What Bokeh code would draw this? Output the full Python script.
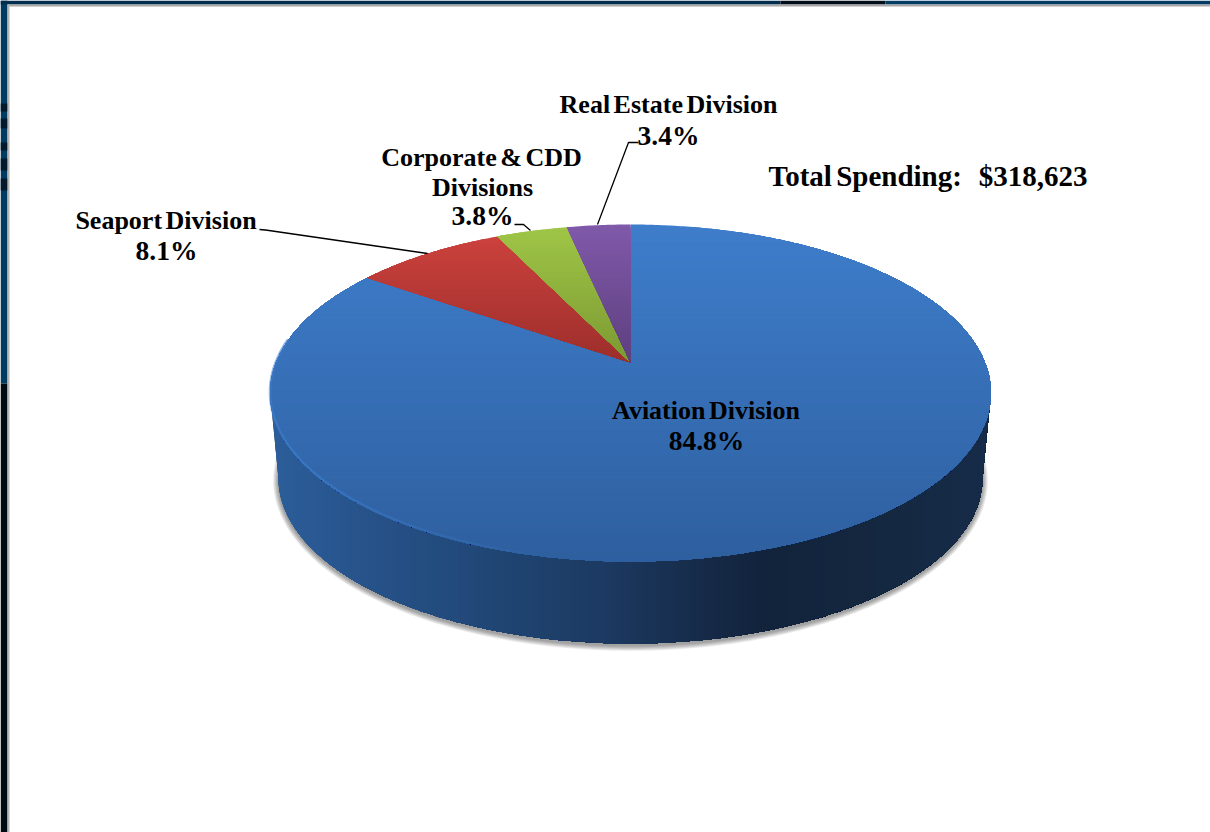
from math import cos, sin, pi, sqrt

from bokeh.core.properties import value
from bokeh.embed import file_html
from bokeh.models import Range1d
from bokeh.plotting import figure
from bokeh.resources import INLINE

# Spending share by division, clockwise from twelve o'clock
divisions = ["Aviation Division", "Seaport Division", "Corporate & CDD Divisions", "Real Estate Division"]
shares = [84.8, 8.1, 3.8, 3.4]
total_label = "Total Spending:\u00a0\u00a0\u00a0\u00a0$318,623"

face_top = ["#3e7dcb", "#cb413d", "#9fc547", "#8059aa"]
face_bottom = ["#2e5f9f", "#9c2e2b", "#7b9932", "#5d3f7e"]

# Side wall colour stops, left to right
wall_stops = [(270, "#2c5e9a"), (350, "#28548c"), (470, "#214878"), (600, "#1c3a62"),
              (700, "#162b49"), (760, "#12233c"), (860, "#14273f"), (991, "#162c49")]

W, H = 1210, 832
APEX_X, APEX_Y, TOP_Y, BOTTOM_Y = 630.0, 362.0, 224.0, 561.0
RADIUS = 354.5
BASE_CY, BASE_RX, BASE_RY = 478.0, 352.0, 165.0
RIM_Y = 392.0

# Perspective of the disc: the pie centre sits above the middle of the ellipse
persp = (BOTTOM_Y - APEX_Y - (APEX_Y - TOP_Y)) / (BOTTOM_Y - TOP_Y)
slope = TOP_Y * (1 + persp) - APEX_Y


def project(angle):
    """Map a clockwise angle on the disc to page coordinates."""
    u, v = sin(angle), cos(angle)
    d = 1 + persp * v
    return APEX_X + RADIUS * u / d, (slope * v + APEX_Y) / d


def hex_rgb(c):
    return tuple(int(c[i:i + 2], 16) for i in (1, 3, 5))


def mix(a, b, t):
    ra, rb = hex_rgb(a), hex_rgb(b)
    return "#%02x%02x%02x" % tuple(round(x + (y - x) * t) for x, y in zip(ra, rb))


def clip(points, axis, limit):
    """Keep the part of a polygon whose coordinate on axis is at or past limit."""
    out = []
    for i, a in enumerate(points):
        b = points[(i + 1) % len(points)]
        ina, inb = a[axis] >= limit, b[axis] >= limit
        if ina:
            out.append(a)
        if ina != inb:
            t = (limit - a[axis]) / (b[axis] - a[axis])
            out.append((a[0] + (b[0] - a[0]) * t, a[1] + (b[1] - a[1]) * t))
    return out


p = figure(width=W, height=H, output_backend="svg", toolbar_location=None,
           x_range=Range1d(0, W), y_range=Range1d(H, 0), min_border=0,
           background_fill_color="white", border_fill_color="white", outline_line_color=None)
p.axis.visible = False
p.grid.visible = False

# Slide backdrop showing around the white panel
p.quad(left=[0], right=[7], top=[0], bottom=[383], fill_color="#003b62", line_color=None)
p.quad(left=[0], right=[7], top=[383], bottom=[H], fill_color="#010a12", line_color=None)
p.quad(left=[0, 0, 0, 0, 0], right=[7] * 5, top=[103, 118, 142, 158, 178], bottom=[111, 128, 150, 170, 190],
       fill_color="#021a2b", line_color=None)
p.quad(left=[0, 780, 885], right=[780, 885, W], top=[0, 0, 0], bottom=[4, 4, 4],
       fill_color=["#012e4e", "#020f1a", "#013c64"], line_color=None)
p.quad(left=[7], right=[W], top=[4], bottom=[6], fill_color="#a8a8a8", line_color=None)
p.quad(left=[7], right=[9], top=[4], bottom=[H], fill_color="#b4b4b4", line_color=None)

# Soft shadow under the base
for k in range(1, 7):
    a = [2 * pi * i / 240 for i in range(240)]
    p.patch([APEX_X + (BASE_RX + k * 0.9) * cos(t) for t in a],
            [BASE_CY + 2 + (BASE_RY + k * 0.9) * sin(t) for t in a],
            fill_color="black", fill_alpha=0.07, line_color=None)

# Side wall: each band repaints everything to its right
arc = [pi * (1 - i / 240) for i in range(241)]
rim_left = APEX_X - RADIUS / sqrt(1 - persp ** 2)
rim_right = APEX_X + RADIUS / sqrt(1 - persp ** 2)
wall = [(rim_left, RIM_Y)] + [(APEX_X + BASE_RX * cos(t), BASE_CY + BASE_RY * sin(t)) for t in arc] + [(rim_right, RIM_Y)]
xs, ys, fills = [], [], []
for x in range(int(rim_left), int(rim_right), 3):
    for (x0, c0), (x1, c1) in zip(wall_stops, wall_stops[1:]):
        if x0 <= x <= x1:
            fills.append(mix(c0, c1, (x - x0) / (x1 - x0)))
            break
    else:
        fills.append(wall_stops[-1][1])
    piece = clip(wall, 0, x)
    xs.append([q[0] for q in piece])
    ys.append([q[1] for q in piece])
p.patches(xs, ys, fill_color=fills, line_color=None)

# Top face: one polygon per division, shaded top to bottom
total = sum(shares)
start = 0.0
for i, share in enumerate(shares):
    end = start + 2 * pi * share / total
    steps = max(12, int(share * 6))
    outline = [(APEX_X, APEX_Y)] + [project(start + (end - start) * j / steps) for j in range(steps + 1)]
    y0 = min(q[1] for q in outline)
    y1 = max(q[1] for q in outline)
    xs, ys, fills = [], [], []
    y = y0
    while y < y1:
        piece = clip(outline, 1, y)
        if len(piece) > 2:
            xs.append([q[0] for q in piece])
            ys.append([q[1] for q in piece])
            fills.append(mix(face_top[i], face_bottom[i], (y - y0) / (y1 - y0)))
        y += 2.5
    p.patches(xs, ys, fill_color=fills, line_color=None)
    start = end

# Bevel highlight along the lower left rim
seg_x, seg_y, seg_alpha = [], [], []
n = 100
for j in range(n):
    t0 = 2 * pi * (188 + (278 - 188) * j / n) / 360
    t1 = 2 * pi * (188 + (278 - 188) * (j + 1) / n) / 360
    a0, a1 = project(t0), project(t1)
    seg_x.append([a0[0], a1[0]])
    seg_y.append([a0[1] - 1, a1[1] - 1])
    seg_alpha.append(min(1.0, (j + 1) / 50) * 0.6)
p.multi_line(seg_x, seg_y, line_color="#3f7fce", line_width=2.5, line_alpha=seg_alpha)

# Leader lines
leaders_x = [[259, 265, 427], [514, 523, 530], [638, 628, 597]]
leaders_y = [[229, 229.5, 253], [224, 224, 230], [142, 142, 224]]
p.multi_line(leaders_x, leaders_y, line_color="#000000", line_width=1.3)

# Labels: division names, then their percentages in a slightly larger size
serif = value("Liberation Serif")
name_lines = [
    ("Real Estate Division", 671, 104),
    ("Corporate & CDD", 484, 157), ("Divisions", 482, 187),
    ("Seaport Division", 167, 220),
    ("Aviation Division", 707, 410),
]
percent_lines = [("3.4%", 668, 135), ("3.8%", 482, 215), ("8.1%", 166, 250), ("84.8%", 706, 440)]
for lines, size in ((name_lines, "26px"), (percent_lines, "27.5px")):
    p.text(x=[q[1] for q in lines], y=[q[2] for q in lines], text=[q[0] for q in lines],
           text_font=serif, text_font_style="bold", text_font_size=size, text_color="#000000",
           text_align="center", text_baseline="middle")
p.text(x=[768], y=[175], text=[total_label], text_font=serif, text_font_style="bold",
       text_font_size="29px", text_color="#000000", text_align="left", text_baseline="middle")

# Tight word gaps in every label
html = file_html(p, INLINE)
html = html.replace("<head>", "<head><style>html,body{margin:0;padding:0;overflow:hidden;word-spacing:-3px}</style>", 1)
open("out.html", "w").write(html)
